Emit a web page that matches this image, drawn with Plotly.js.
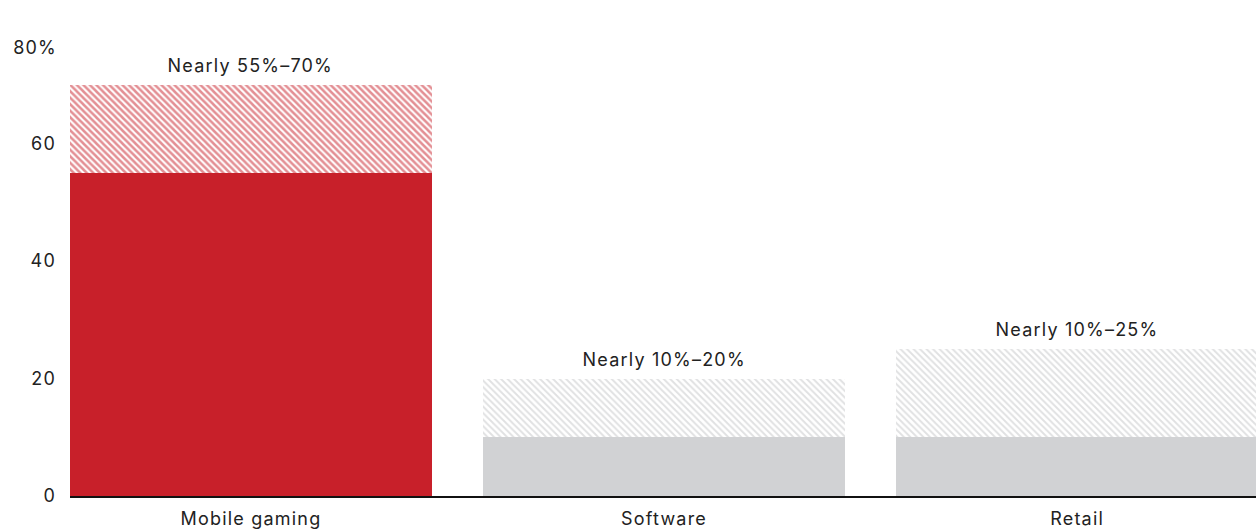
<!DOCTYPE html>
<html>
<head>
<meta charset="utf-8">
<script src="https://cdn.plot.ly/plotly-3.0.1.min.js"></script>
<style>
html,body{margin:0;padding:0;background:#fff;}
#chart{width:1256px;height:531px;}
#chart svg text{letter-spacing:1.2px;}
</style>
</head>
<body>
<div id="chart"></div>
<script>
const categories = ["Mobile gaming", "Software", "Retail"];
const lowValues = [55, 10, 10];
const highValues = [70, 20, 25];
const rangeLabels = ["Nearly 55%–70%", "Nearly 10%–20%", "Nearly 10%–25%"];
const yTickVals = [0, 20, 40, 60];
const yTickText = ["0", "20", "40", "60"];
const topTickLabel = "80%";

const solidColors = ["#C8202A", "#D1D2D4", "#D1D2D4"];
const hatchColors = ["#C8202A", "#C2C3C5", "#C2C3C5"];
const hatchSolidity = [0.55, 0.42, 0.42];
const xIdx = categories.map((c, i) => i);
const extra = highValues.map((h, i) => h - lowValues[i]);
const font = "Inter, 'Open Sans', sans-serif";
const fs = 18;

const traces = [
  {
    type: "bar", x: xIdx, y: lowValues, width: 0.877,
    marker: { color: solidColors, line: { width: 0 } },
    hoverinfo: "skip"
  },
  {
    type: "bar", x: xIdx, y: extra, width: 0.877,
    marker: {
      color: "#ffffff",
      line: { width: 0 },
      pattern: { shape: "\\", fgcolor: hatchColors, bgcolor: "#ffffff", size: 4.6, solidity: hatchSolidity, fillmode: "overlay" }
    },
    hoverinfo: "skip"
  }
];

const annotations = categories.map((c, i) => ({
  x: i, y: highValues[i], xref: "x", yref: "y",
  text: rangeLabels[i], showarrow: false,
  xanchor: "center", yanchor: "bottom", yshift: 7,
  font: { family: font, size: fs, color: "#222" }
}));
annotations.push({
  x: 0, y: 1, xref: "paper", yref: "paper", text: topTickLabel, showarrow: false,
  xanchor: "right", yanchor: "middle", xshift: -13, yshift: -21,
  font: { family: font, size: fs, color: "#222" }
});

const layout = {
  width: 1256, height: 531,
  margin: { l: 70, r: 0, t: 26, b: 35 },
  barmode: "stack",
  showlegend: false,
  paper_bgcolor: "#fff", plot_bgcolor: "#fff",
  font: { family: font, size: fs, color: "#222" },
  xaxis: {
    range: [-0.438, 2.433],
    tickvals: xIdx, ticktext: categories,
    showgrid: false, zeroline: false,
    showline: true, linecolor: "#111", linewidth: 2,
    ticks: "", ticklabelstandoff: 5,
    tickfont: { family: font, size: fs, color: "#222" }
  },
  yaxis: {
    range: [0, 80],
    tickvals: yTickVals, ticktext: yTickText,
    showgrid: false, zeroline: false, showline: false,
    ticks: "", ticklabelstandoff: 13,
    tickfont: { family: font, size: fs, color: "#222" }
  },
  annotations: annotations
};

Plotly.newPlot("chart", traces, layout, { staticPlot: true, displayModeBar: false });
</script>
</body>
</html>
